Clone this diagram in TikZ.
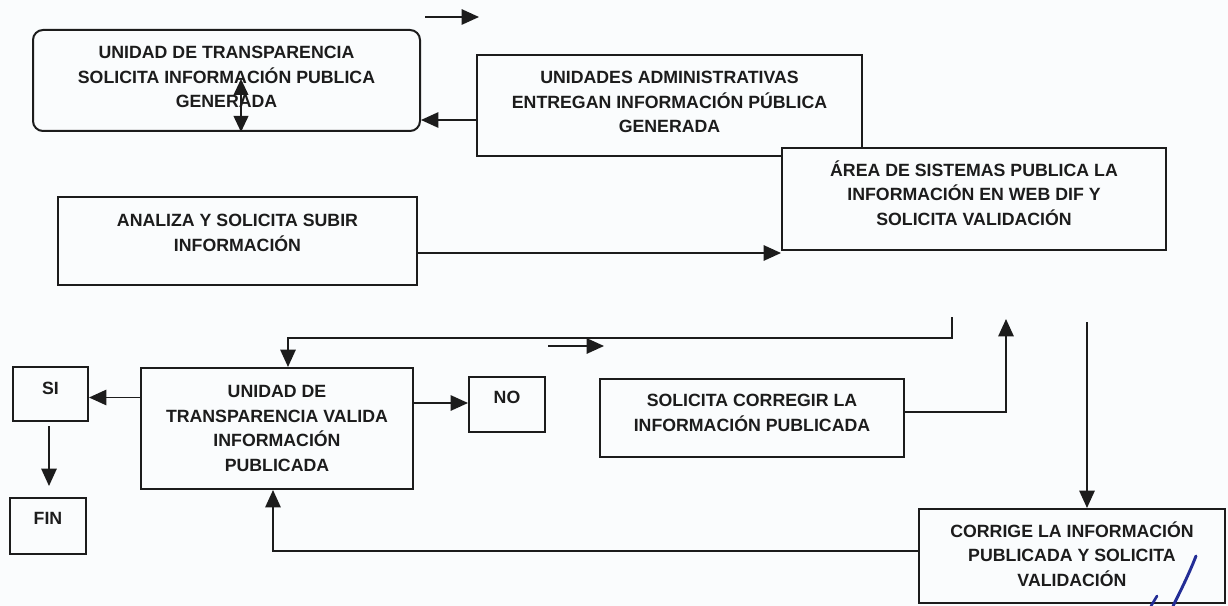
\documentclass[tikz,border=0pt]{standalone}
\usepackage{fontspec}
\newfontfamily\scanfont{Liberation Sans}
\usetikzlibrary{arrows.meta,calc}
\definecolor{bg}{RGB}{250,252,253}
\definecolor{ink}{RGB}{28,28,28}
\definecolor{pen}{RGB}{35,45,150}
\newcommand{\boxtxt}[2]{\raisebox{#1}[0pt][0pt]{\begin{tabular}[t]{@{}c@{}}#2\end{tabular}}}
\tikzset{
  box/.style={draw=ink, text=ink, line width=1.5pt, fill=bg, inner sep=0pt,
    font=\scanfont\bfseries\fontsize{13.3pt}{18.4pt}\selectfont},
  rbox/.style={box, rounded corners=7.5pt},
  arr/.style={draw=ink, line width=1.3pt, -{Triangle[length=13pt,width=11.5pt]}},
  darr/.style={draw=ink, line width=1.3pt, {Triangle[length=12pt,width=11pt]}-{Triangle[length=12pt,width=11pt]}},
}
\begin{document}
\begin{tikzpicture}[x=0.75pt,y=-0.75pt]
\path[fill=bg, use as bounding box] (0,0) rectangle (1228,606);

% boxes
\node[rbox, minimum width=290.25pt, minimum height=75.75pt] (A) at (226.5,80.5)
  {\boxtxt{16.5pt}{UNIDAD DE TRANSPARENCIA\\SOLICITA INFORMACIÓN PUBLICA\\GENERADA}};
\node[box, minimum width=288.75pt, minimum height=75.75pt] (B) at (669.5,105.5)
  {\boxtxt{16.5pt}{UNIDADES ADMINISTRATIVAS\\ENTREGAN INFORMACIÓN PÚBLICA\\GENERADA}};
\node[box, minimum width=288pt, minimum height=76.5pt] (C) at (974,199)
  {\boxtxt{16.9pt}{ÁREA DE SISTEMAS PUBLICA LA\\INFORMACIÓN EN WEB DIF Y\\SOLICITA VALIDACIÓN}};
\node[box, minimum width=269.25pt, minimum height=66pt] (D) at (237.5,241)
  {\boxtxt{10.9pt}{ANALIZA Y SOLICITA SUBIR\\INFORMACIÓN}};
\node[box, minimum width=204pt, minimum height=90.75pt] (E) at (277,428.5)
  {\boxtxt{23.25pt}{UNIDAD DE\\TRANSPARENCIA VALIDA\\INFORMACIÓN\\PUBLICADA}};
\node[box, minimum width=228pt, minimum height=58.5pt] (F) at (752,418)
  {\boxtxt{8.6pt}{SOLICITA CORREGIR LA\\INFORMACIÓN PUBLICADA}};
\node[box, minimum width=229.5pt, minimum height=70.5pt] (G) at (1072,556)
  {\boxtxt{14.25pt}{CORRIGE LA INFORMACIÓN\\PUBLICADA Y SOLICITA\\VALIDACIÓN}};
\node[box, minimum width=57pt, minimum height=41.25pt] (NO) at (507,404.5)
  {\boxtxt{0.75pt}{NO}};
\node[box, minimum width=56.25pt, minimum height=40.5pt] (SI) at (50.5,394)
  {\boxtxt{0pt}{SI}};
\node[box, minimum width=57pt, minimum height=42pt] (FIN) at (48,526)
  {\boxtxt{1.1pt}{FIN}};

% free ends
\coordinate (t1) at (425,17);
\coordinate (t2) at (479,17);
\coordinate (dv1) at (241,79);
\coordinate (dv2) at (241,132);
\coordinate (c1) at (952,317);
\coordinate (c2) at (952,338);
\coordinate (f1) at (548,346);
\coordinate (f2) at (604,346);
\coordinate (fu) at (1006,319);
\coordinate (g1) at (1087,322);

% connectors
\draw[arr] (t1) -- (t2);
\draw[darr] (dv1) -- (dv2);
\draw[arr] ($(B.west)+(0,14.5)$) coordinate (ba) -- (A.east |- ba);
\draw[arr] ($(D.east)+(0,12)$) coordinate (dc) -- (C.west |- dc);
\draw[arr] (c1) -- (c2) -| ($(E.north)+(11,0)$);
\draw[arr] (f1) -- (f2);
\draw[arr] ($(E.west)+(0,-31)$) coordinate (es) -- (SI.east |- es);
\draw[arr] ($(E.east)+(0,-25.5)$) coordinate (en) -- (NO.west |- en);
\draw[arr] ($(SI.south)+(-1.5,4)$) -- ($(FIN.north)+(1,-11)$);
\draw[arr] ($(F.east)+(0,-6)$) -| (fu);
\draw[arr] (g1) -- (g1 |- G.north);
\draw[arr] ($(G.west)+(0,-5)$) -| ($(E.south)+(-4,0)$);

% handwritten mark
\draw[pen, line width=2.2pt, line cap=round] (1196,556) .. controls (1189,574) and (1180,592) .. (1173,606);
\draw[pen, line width=2pt, line cap=round] (1157,596) -- (1151,606);
\end{tikzpicture}
\end{document}
